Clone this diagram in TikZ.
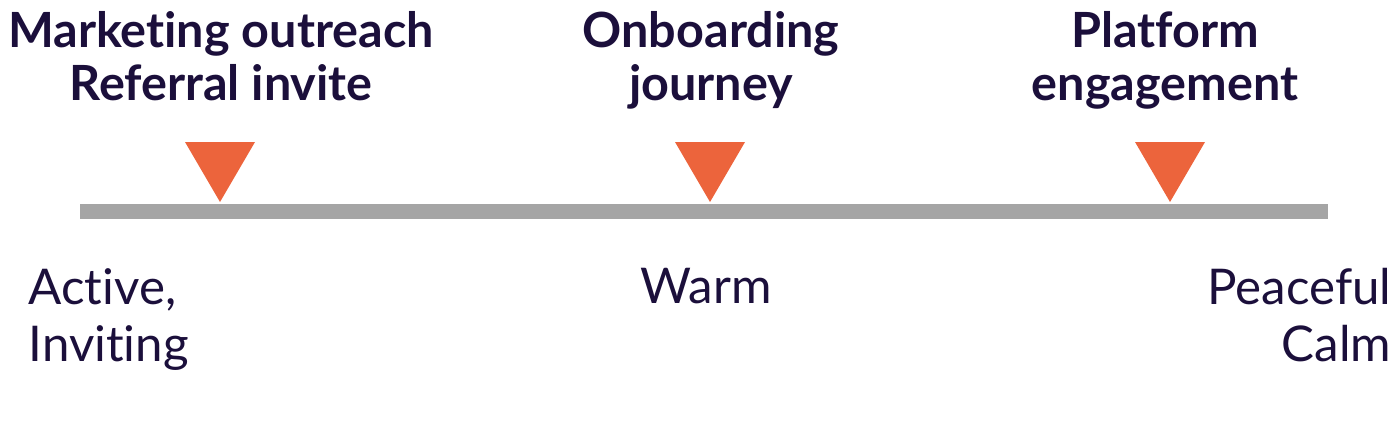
\documentclass[tikz,border=0pt]{standalone}
\usepackage{fontspec}
\setmainfont{Lato}[Ligatures=NoCommon]
\definecolor{ink}{HTML}{1B0F3B}
\definecolor{markorange}{HTML}{EC643C}
\definecolor{bargray}{HTML}{A5A5A5}

\begin{document}
\begin{tikzpicture}[x=0.01cm,y=-0.01cm,
    stage/.style={text=ink,inner sep=0pt,align=center,anchor=north,
      font=\fontsize{13.8}{15}\selectfont\bfseries},
    mood/.style={text=ink,inner sep=0pt,
      font=\fontsize{14}{16.2}\selectfont}]
  \useasboundingbox (0,0) rectangle (1395,433);
  % the line
  \fill[bargray] (80,204) rectangle (1328,219);
  % markers above the line
  \foreach \x in {220,710,1170} {
    \fill[markorange] (\x-35,142) -- (\x+35,142) -- (\x,202) -- cycle;
  }
  % touch points
  \node[stage] (outreach) at (221,11) {Marketing outreach\\Referral invite};
  \node[stage] (onboarding) at (711,11) {Onboarding\\journey};
  \node[stage] (engagement) at (1165,11) {Platform\\engagement};
  % moods under the line
  \node[mood,align=left,anchor=north west] (active) at (28,268) {Active,\\Inviting};
  \node[mood,anchor=north west] (warm) at (640,268) {Warm};
  \node[mood,align=right,anchor=north east] (peaceful) at (1392,268) {Peaceful\\Calm};
\end{tikzpicture}
\end{document}
